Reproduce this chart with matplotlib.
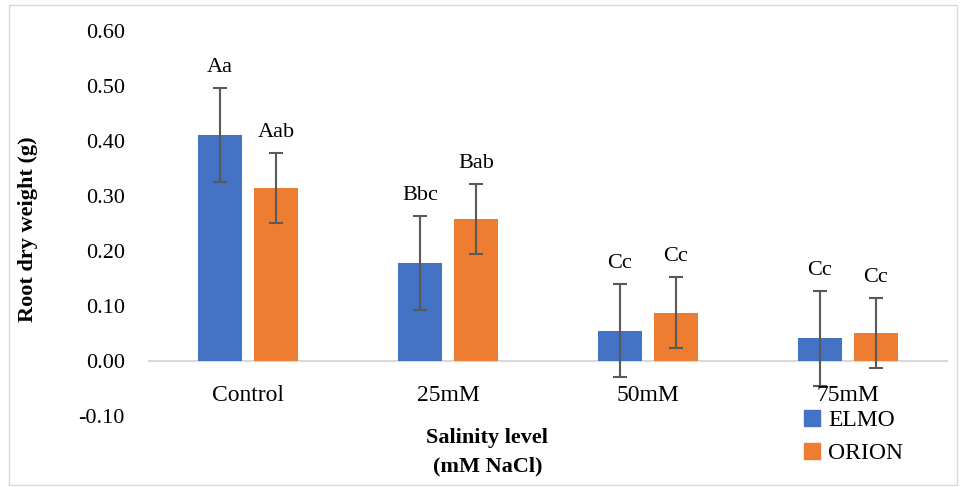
import numpy as np
from matplotlib import pyplot as plt
from matplotlib.patches import Patch

categories = ['Control', '25mM', '50mM', '75mM']
elmo = [0.411, 0.178, 0.055, 0.041]
elmo_err = [0.085, 0.086, 0.085, 0.086]
orion = [0.315, 0.258, 0.088, 0.051]
orion_err = [0.064, 0.064, 0.064, 0.064]
elmo_letters = ['Aa', 'Bbc', 'Cc', 'Cc']
orion_letters = ['Aab', 'Bab', 'Cc', 'Cc']
yticks = [-0.10, 0.00, 0.10, 0.20, 0.30, 0.40, 0.50, 0.60]

plt.rcParams['font.family'] = ['Liberation Serif', 'DejaVu Serif']

blue = '#4472C4'
orange = '#ED7D31'
errc = '#595959'

fig = plt.figure(figsize=(9.63, 4.87), dpi=100)
ax = fig.add_axes([0.154, 0.146, 0.830, 0.790])

x = np.arange(len(categories))
w = 0.22
off = 0.14

ax.bar(x - off, elmo, w, color=blue, zorder=2)
ax.bar(x + off, orion, w, color=orange, zorder=2)
ax.errorbar(x - off, elmo, yerr=elmo_err, fmt='none', ecolor=errc, elinewidth=1.5, capsize=5, capthick=1.5, zorder=3)
ax.errorbar(x + off, orion, yerr=orion_err, fmt='none', ecolor=errc, elinewidth=1.5, capsize=5, capthick=1.5, zorder=3)

for i in range(len(categories)):
    ax.text(x[i] - off, elmo[i] + elmo_err[i] + 0.02, elmo_letters[i], ha='center', va='bottom', fontsize=16)
    ax.text(x[i] + off, orion[i] + orion_err[i] + 0.02, orion_letters[i], ha='center', va='bottom', fontsize=16)
    ax.text(x[i], -0.062, categories[i], ha='center', va='center', fontsize=17)

ax.axhline(0, color='#d9d9d9', linewidth=1.5, zorder=1)
ax.set_xlim(-0.5, len(categories) - 0.5)
ax.set_ylim(-0.1, 0.6)
ax.set_yticks(yticks)
ax.set_yticklabels(['%.2f' % v for v in yticks], fontsize=16)
ax.tick_params(axis='y', length=0, pad=17)
ax.set_xticks([])
for s in ax.spines.values():
    s.set_visible(False)

fig.text(0.029, 0.53, 'Root dry weight (g)', rotation=90, ha='center', va='center', fontsize=16, fontweight='bold')
fig.text(0.506, 0.071, 'Salinity level\n(mM NaCl)', ha='center', va='center', fontsize=16, fontweight='bold', linespacing=1.6)

handles = [Patch(color=blue, label='ELMO'), Patch(color=orange, label='ORION')]
fig.legend(handles=handles, loc='upper left', bbox_to_anchor=(0.828, 0.173), frameon=False,
           fontsize=17, handlelength=0.65, handleheight=0.65, handletextpad=0.35, labelspacing=0.5,
           borderaxespad=0, borderpad=0.3)

fig.patches.append(plt.Rectangle((0.009, 0.005), 0.985, 0.985, transform=fig.transFigure,
                                 fill=False, edgecolor='#d9d9d9', linewidth=1))

plt.savefig('out.png', dpi=100)
